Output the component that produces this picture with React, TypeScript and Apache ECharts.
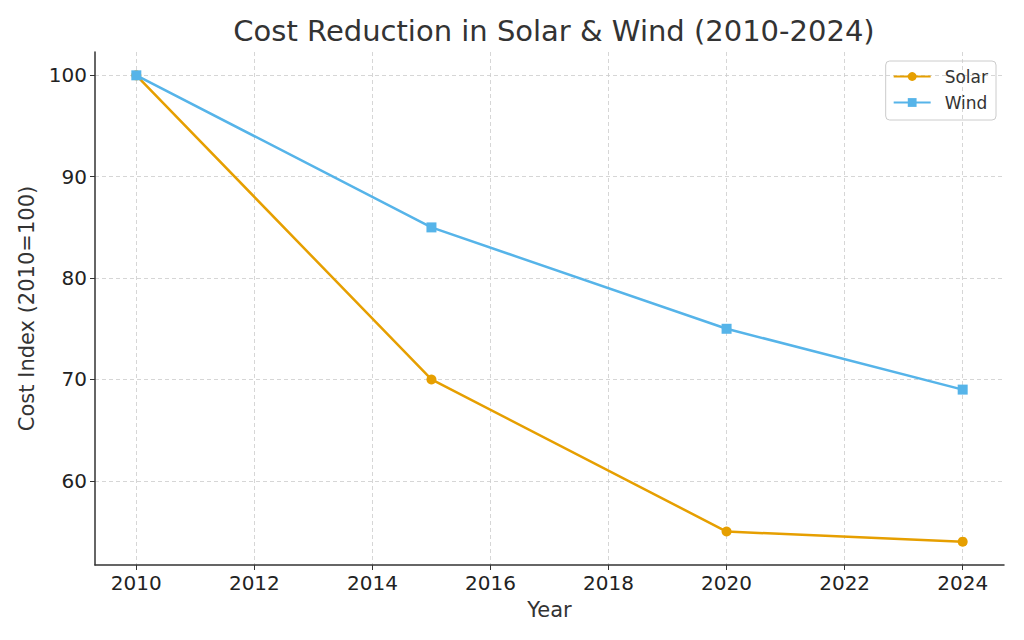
import React, { useEffect, useRef } from "react";
import * as echarts from "echarts";

const years = [2010, 2015, 2020, 2024];
const solar = [100, 70, 55, 54];
const wind = [100, 85, 75, 69];
const xTicks = [2010, 2012, 2014, 2016, 2018, 2020, 2022, 2024];
const yTicks = [60, 70, 80, 90, 100];

const FONT = "DejaVu Sans";

export default function App() {
  const ref = useRef<HTMLDivElement>(null);

  useEffect(() => {
    if (!ref.current) return;
    const chart = echarts.init(ref.current, undefined, { renderer: "svg" });
    const gridLine = { show: true, lineStyle: { color: "#cccccc", type: [4, 3], width: 0.8 } };
    chart.setOption({
      animation: false,
      backgroundColor: "#ffffff",
      textStyle: { fontFamily: FONT },
      title: {
        text: "Cost Reduction in Solar & Wind (2010-2024)",
        left: 549,
        textAlign: "center",
        top: 11,
        textStyle: { fontFamily: FONT, fontSize: 29, fontWeight: "normal", color: "#333333" },
      },
      legend: {
        orient: "vertical",
        right: 28,
        top: 61,
        padding: [7, 8, 9, 7],
        itemGap: 9,
        itemWidth: 37,
        itemHeight: 11,
        borderColor: "#cccccc",
        borderWidth: 1,
        borderRadius: 4,
        textStyle: { fontFamily: FONT, fontSize: 17, color: "#333333", padding: [0, 0, 0, 9] },
        data: ["Solar", "Wind"],
      },
      grid: { left: 95, right: 20, top: 52, bottom: 75 },
      xAxis: {
        type: "value",
        min: 2009.3,
        max: 2024.7,
        name: "Year",
        nameLocation: "middle",
        nameGap: 34,
        nameTextStyle: { fontFamily: FONT, fontSize: 21, color: "#333333" },
        axisLine: { show: true, lineStyle: { color: "#333333", width: 1.5 } },
        axisTick: { show: true, length: 5, customValues: xTicks, lineStyle: { color: "#333333" } },
        axisLabel: {
          customValues: xTicks,
          fontFamily: FONT,
          fontSize: 20,
          color: "#222222",
          margin: 8,
          formatter: (v: number) => String(v),
        },
        splitLine: gridLine,
      },
      yAxis: {
        type: "value",
        min: 51.7,
        max: 102.3,
        name: "Cost Index (2010=100)",
        nameLocation: "middle",
        nameGap: 56,
        nameRotate: 90,
        nameTextStyle: { fontFamily: FONT, fontSize: 21, color: "#333333" },
        axisLine: { show: true, lineStyle: { color: "#333333", width: 1.5 } },
        axisTick: { show: true, length: 5, customValues: yTicks, lineStyle: { color: "#333333" } },
        axisLabel: {
          customValues: yTicks,
          fontFamily: FONT,
          fontSize: 20,
          color: "#222222",
          margin: 8,
          formatter: (v: number) => String(v),
        },
        splitLine: gridLine,
      },
      series: [
        {
          name: "Solar",
          type: "line",
          data: years.map((y, i) => [y, solar[i]]),
          symbol: "circle",
          symbolSize: 10,
          showAllSymbol: true,
          itemStyle: { color: "#E69F00" },
          lineStyle: { color: "#E69F00", width: 2.5 },
          z: 2,
        },
        {
          name: "Wind",
          type: "line",
          data: years.map((y, i) => [y, wind[i]]),
          symbol: "rect",
          symbolSize: 10,
          showAllSymbol: true,
          itemStyle: { color: "#56B4E9" },
          lineStyle: { color: "#56B4E9", width: 2.5 },
          z: 3,
        },
      ],
    });
    return () => chart.dispose();
  }, []);

  return <div ref={ref} style={{ width: 1024, height: 640, position: "absolute", left: 0, top: 0 }} />;
}
